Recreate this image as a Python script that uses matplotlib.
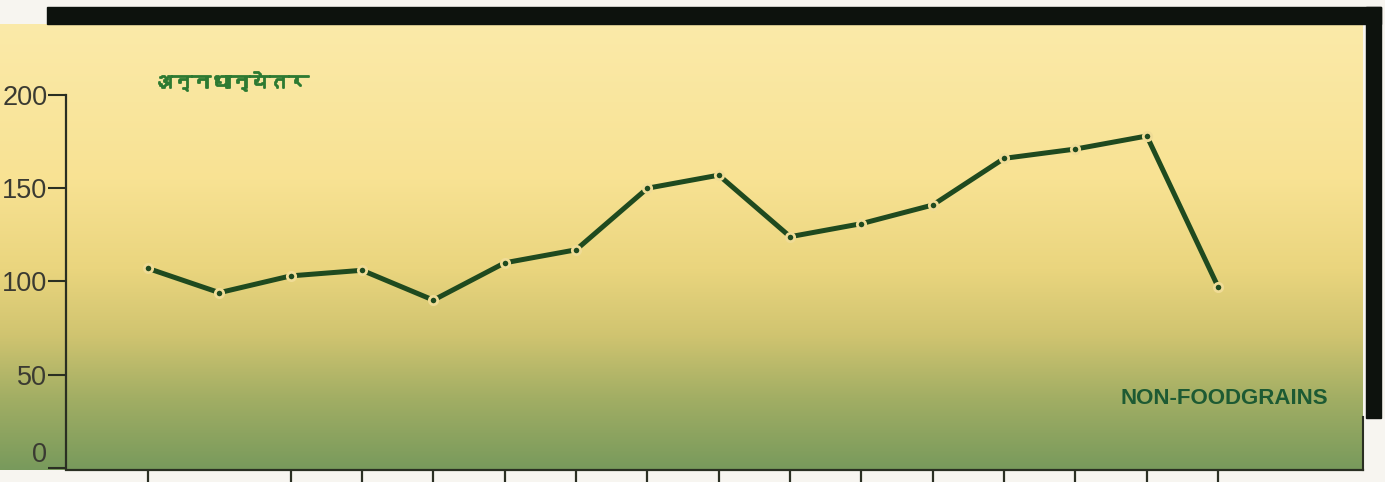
import numpy as np
import matplotlib
matplotlib.use("Agg")
import matplotlib.pyplot as plt
import matplotlib.patheffects as pe
from matplotlib import font_manager
from matplotlib.ft2font import FT2Font
from matplotlib.patches import Rectangle
from matplotlib.colors import LinearSegmentedColormap

# Datos (índice de producción, no-granos)
valores = [107, 94, 103, 106, 90, 110, 117, 150, 157, 124, 131, 141, 166, 171, 178, 97]
yticks = [0, 50, 100, 150, 200]
titulo_hi = "अन्नधान्येतर"
titulo_en = "NON-FOODGRAINS"
# marcas del eje x (la segunda no se ve en el original)
xticks = [0, 2, 3, 4, 5, 6, 7, 8, 9, 10, 11, 12, 13, 14, 15]


def fuente_para(ch, defecto="DejaVu Sans"):
    # busca una fuente instalada que tenga el caracter
    for f in font_manager.fontManager.ttflist:
        try:
            if FT2Font(f.fname).get_char_index(ord(ch)):
                return f.name
        except Exception:
            pass
    return defecto


W, H = 1385, 482
fig = plt.figure(figsize=(W / 100, H / 100), dpi=100)
fig.patch.set_facecolor("#f7f5f0")

# fondo degradado amarillo -> verde
ax_bg = fig.add_axes([0, 12 / H, 1363 / W, 446 / H])
cmap = LinearSegmentedColormap.from_list(
    "fondo",
    [(0.0, "#fbeaa9"), (0.35, "#f8e293"), (0.55, "#ead57e"),
     (0.70, "#d0c470"), (0.84, "#a2ae64"), (1.0, "#789a5c")])
grad = np.linspace(0, 1, 256).reshape(-1, 1)
ax_bg.imshow(grad, aspect="auto", cmap=cmap, extent=[0, 1, 0, 1])
ax_bg.axis("off")

# barras negras (sombra del recuadro)
fig.add_artist(Rectangle((47 / W, (H - 24) / H), (1381 - 47) / W, 17 / H,
                         transform=fig.transFigure, color="#0d120d", zorder=5))
fig.add_artist(Rectangle((1366 / W, (H - 418) / H), 15 / W, (418 - 7) / H,
                         transform=fig.transFigure, color="#0d120d", zorder=5))

ax = fig.add_axes([66 / W, 12 / H, (1363 - 66) / W, 445 / H])
ax.set_facecolor("none")

x = np.arange(len(valores))
ax.plot(x, valores, color="#1f4a1f", lw=3.6, marker="o", ms=6,
        mfc="#1f4a1f", mec="#f0dc96", mew=2.0, solid_capstyle="butt")

ax.set_xlim(-1.15, 17.03)
ax.set_ylim(-1.07, 237.5)

for s in ["top", "right"]:
    ax.spines[s].set_visible(False)
ax.spines["left"].set_bounds(0, 200)
ax.spines["left"].set_color("#2a2f22")
ax.spines["left"].set_linewidth(1.6)
ax.spines["bottom"].set_color("#2a2f22")
ax.spines["bottom"].set_linewidth(1.6)

ax.set_yticks(yticks)
ax.set_yticklabels([str(v) for v in yticks], family="Liberation Sans",
                   fontsize=19.5, color="#3a3a32")
ax.tick_params(axis="y", direction="out", length=13, width=1.5,
               color="#2a2f22", pad=0.5)
ax.get_yticklabels()[0].set_va("bottom")
ax.set_xticks(xticks)
ax.set_xticklabels([])
ax.tick_params(axis="x", direction="out", length=10, width=1.6,
               color="#2a2f22")

# linea derecha del recuadro
ax.plot([1, 1], [0, 0.12], transform=ax.transAxes, color="#2a2f22",
        lw=1.5, clip_on=False)

fam_hi = fuente_para("अ")
fig.text(153 / W, (H - 82) / H, titulo_hi, family=[fam_hi, "DejaVu Sans"],
         fontsize=14, fontweight="bold", color="#2d7a32", va="center",
         path_effects=[pe.withStroke(linewidth=1.3, foreground="#2d7a32")])
fig.text(1328 / W, (H - 399) / H, titulo_en, family="Liberation Sans",
         fontsize=16, fontweight="bold", color="#1d5a33", ha="right",
         va="center")

fig.savefig("out.png", dpi=100, facecolor=fig.get_facecolor())
